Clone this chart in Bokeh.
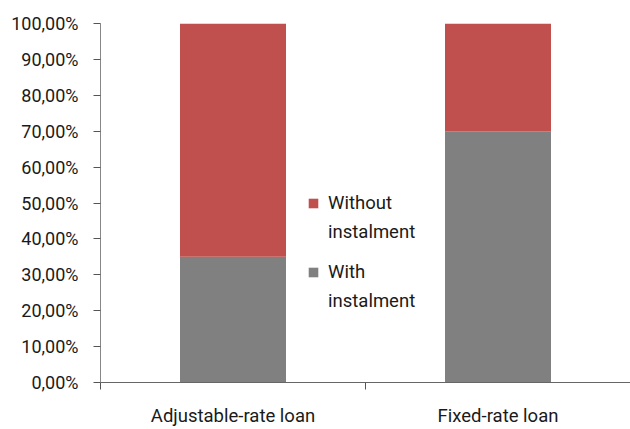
from bokeh.plotting import figure
from bokeh.models import FixedTicker, Legend, LegendItem, Range1d, ColumnDataSource
from bokeh.embed import file_html
from bokeh.resources import INLINE

categories = ["Adjustable-rate loan", "Fixed-rate loan"]
with_instalment = [0.35, 0.70]
without_instalment = [0.65, 0.30]
y_ticks = [0.0, 0.1, 0.2, 0.3, 0.4, 0.5, 0.6, 0.7, 0.8, 0.9, 1.0]
y_tick_labels = ["0,00%", "10,00%", "20,00%", "30,00%", "40,00%", "50,00%",
                 "60,00%", "70,00%", "80,00%", "90,00%", "100,00%"]
legend_without = ["Without", "instalment"]
legend_with = ["With", "instalment"]
colors = ["#808080", "#C0504D"]

FONT = "Roboto"
FS_Y = "18px"
FS = "18.5px"
TXT = "#1a1a1a"

xs = [i + 0.5 for i in range(len(categories))]
src = ColumnDataSource(dict(x=xs, with_i=with_instalment, without_i=without_instalment))

p = figure(width=630, height=429, output_backend="svg", toolbar_location=None,
           x_range=Range1d(0, len(categories)), y_range=Range1d(0, 1))
p.min_border_left = 100
p.min_border_right = 0
p.min_border_top = 23
p.min_border_bottom = 46
p.outline_line_color = None
p.grid.visible = False

r = p.vbar_stack(["with_i", "without_i"], x="x", width=0.4, source=src,
                 color=colors, line_color=None)
blank = p.vbar(x=[], top=[], width=0.1, fill_alpha=0, line_alpha=0)

# x axis: ticks at category boundaries, names centred under the bars
p.xaxis.ticker = FixedTicker(ticks=xs, minor_ticks=list(range(len(categories) + 1)))
p.xaxis.major_label_overrides = {x: c for x, c in zip(xs, categories)}
p.xaxis.major_tick_out = 0
p.xaxis.major_tick_in = 0
p.xaxis.minor_tick_out = 7
p.xaxis.minor_tick_in = 0
p.xaxis.minor_tick_line_color = "#555555"
p.xaxis.axis_line_color = "#666666"
p.xaxis.major_label_standoff = 15
p.xaxis.major_label_text_font = FONT
p.xaxis.major_label_text_font_size = FS
p.xaxis.major_label_text_color = TXT

# y axis
p.yaxis.ticker = FixedTicker(ticks=y_ticks, minor_ticks=[])
p.yaxis.major_label_overrides = {t: l for t, l in zip(y_ticks, y_tick_labels)}
p.yaxis.major_tick_out = 7
p.yaxis.major_tick_in = 0
p.yaxis.major_tick_line_color = "#555555"
p.yaxis.axis_line_color = "#888888"
p.yaxis.major_label_standoff = 15
p.yaxis.major_label_text_font = FONT
p.yaxis.major_label_text_font_size = FS_Y
p.yaxis.major_label_text_color = TXT


def make_legend(labels, renderer, loc):
    lg = Legend(items=[LegendItem(label=labels[0], renderers=[renderer]),
                       LegendItem(label=labels[1], renderers=[blank])],
                location=loc)
    lg.background_fill_alpha = 0
    lg.border_line_color = None
    lg.padding = 0
    lg.margin = 0
    lg.spacing = 0
    lg.glyph_width = 12
    lg.glyph_height = 12
    lg.label_height = 29
    lg.label_standoff = 9
    lg.label_text_font = FONT
    lg.label_text_font_size = FS
    lg.label_text_color = TXT
    return lg


p.add_layout(make_legend(legend_without, r[1], (207, 136)))
p.add_layout(make_legend(legend_with, r[0], (207, 67)))

open("out.html", "w").write(file_html(p, INLINE))
